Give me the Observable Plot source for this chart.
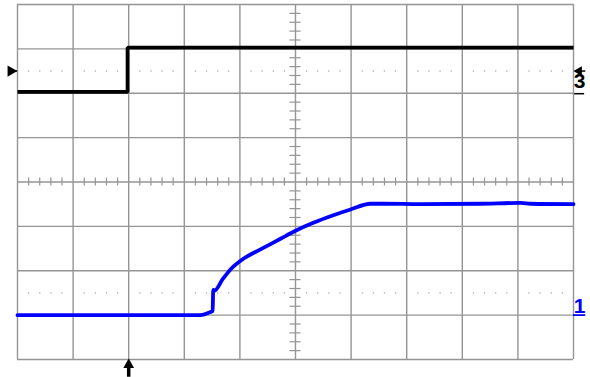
<!DOCTYPE html>
<html>
<head>
<meta charset="utf-8">
<script src="https://cdn.jsdelivr.net/npm/d3@7"></script>
<script src="https://cdn.jsdelivr.net/npm/@observablehq/plot@0.6"></script>
<style>
  html, body { margin: 0; padding: 0; background: #fff; }
  #chart svg { display: block; }
</style>
</head>
<body>
<div id="chart"></div>
<script>
// Time axis in divisions (0..10), vertical in divisions (-4..4)
const ch3Time  = [0, 1.98, 1.98, 10];
const ch3Volts = [2.03, 2.03, 3.03, 3.03];

const ch1Time  = [0, 3.29, 3.47, 3.51, 3.52, 3.54, 3.69, 3.83, 4.05, 4.37, 4.73, 5.0, 5.32, 5.68, 5.99, 6.35, 6.6, 7.25, 8.33, 9.05, 9.23, 10];
const ch1Volts = [-3.0, -3.0, -2.93, -2.91, -2.43, -2.45, -2.19, -1.97, -1.74, -1.52, -1.28, -1.1, -0.92, -0.75, -0.62, -0.49, -0.49, -0.50, -0.49, -0.47, -0.49, -0.50];

const channelLabels = ["3", "1"];
const channelLevels = [2.5, -3.0];
const channelColors = ["#000000", "#0000ff"];
const triggerTime = 2;
const triggerLevel = 2.5;

const ch3 = ch3Time.map((t, i) => ({t, v: ch3Volts[i]}));
const ch1 = ch1Time.map((t, i) => ({t, v: ch1Volts[i]}));

const xMajors = d3.range(0, 11, 1);
const yMajors = d3.range(-4, 5, 1);
const xMinors = d3.range(1, 50).filter(k => k % 5 !== 0).map(k => k * 0.2);
const yMinors = d3.range(-19, 20).filter(k => k % 5 !== 0).map(k => k * 0.2);
const dotLevels = [2.5, -2.5];
const dotPts = dotLevels.flatMap(y => xMinors.map(x => ({x, y})));

const grid = "#959595";

const chart = Plot.plot({
  width: 590,
  height: 377,
  marginLeft: 17,
  marginRight: 17,
  marginTop: 4,
  marginBottom: 18,
  x: {domain: [0, 10], axis: null},
  y: {domain: [-4, 4], axis: null},
  style: {background: "#fff", overflow: "visible"},
  marks: [
    Plot.ruleX(xMajors, {x: d => d, y1: -4, y2: 4, stroke: grid, strokeWidth: 1.4}),
    Plot.ruleY(yMajors, {y: d => d, x1: 0, x2: 10, stroke: grid, strokeWidth: 1.4}),
    Plot.dot(dotPts, {x: "x", y: "y", r: 0.8, fill: "#aaa", stroke: null}),
    Plot.ruleY(yMinors, {y: d => d, x1: 5 - 0.1, x2: 5 + 0.1, stroke: grid, strokeWidth: 1.2}),
    Plot.ruleX(xMinors, {x: d => d, y1: -0.09, y2: 0.09, stroke: grid, strokeWidth: 1.2}),
    Plot.line(ch3, {x: "t", y: "v", stroke: channelColors[0], strokeWidth: 3.8, strokeLinejoin: "miter", strokeLinecap: "butt"}),
    Plot.line(ch1, {x: "t", y: "v", stroke: channelColors[1], strokeWidth: 3.8, strokeLinejoin: "round", curve: "monotone-x"}),
    // trigger level marker on the left
    Plot.dot([triggerLevel], {x: -0.12, y: d => d, symbol: "triangle", r: 4.2, rotate: 90, fill: "#000", stroke: null}),
    Plot.ruleY([triggerLevel], {y: d => d, x1: -0.1, x2: 0, stroke: "#000", strokeWidth: 1.5}),
    // channel 3 marker on the right: arrow + label
    Plot.dot([channelLevels[0]], {x: 10.1, y: d => d, symbol: "triangle", r: 3.6, rotate: -90, fill: "#000", stroke: null}),
    Plot.ruleY([channelLevels[0]], {y: d => d, x1: 10.1, x2: 10.22, stroke: "#000", strokeWidth: 1.5}),
    Plot.text([channelLabels[0]], {x: 10.11, y: 2.11, text: d => d, fill: channelColors[0], fontSize: 21, fontWeight: "bold", fontFamily: "Liberation Sans, Arial, sans-serif", textAnchor: "middle", lineAnchor: "bottom"}),
    Plot.ruleY([1.99], {y: d => d, x1: 10.02, x2: 10.2, stroke: "#000", strokeWidth: 1.5}),
    // channel 1 marker on the right
    Plot.text([channelLabels[1]], {x: 10.11, y: -2.95, text: d => d, fill: channelColors[1], fontSize: 21, fontWeight: "bold", fontFamily: "Liberation Sans, Arial, sans-serif", textAnchor: "middle", lineAnchor: "bottom"}),
    Plot.ruleY([channelLevels[1]], {y: d => d, x1: 10.0, x2: 10.22, stroke: channelColors[1], strokeWidth: 1.8}),
    // trigger time arrow at the bottom
    Plot.ruleX([triggerTime], {x: d => d, y1: -4.4, y2: -4.12, stroke: "#000", strokeWidth: 3.5}),
    Plot.dot([triggerTime], {x: d => d, y: -4.12, symbol: "triangle", r: 4, fill: "#000", stroke: null})
  ]
});
document.getElementById("chart").appendChild(chart);
</script>
</body>
</html>
